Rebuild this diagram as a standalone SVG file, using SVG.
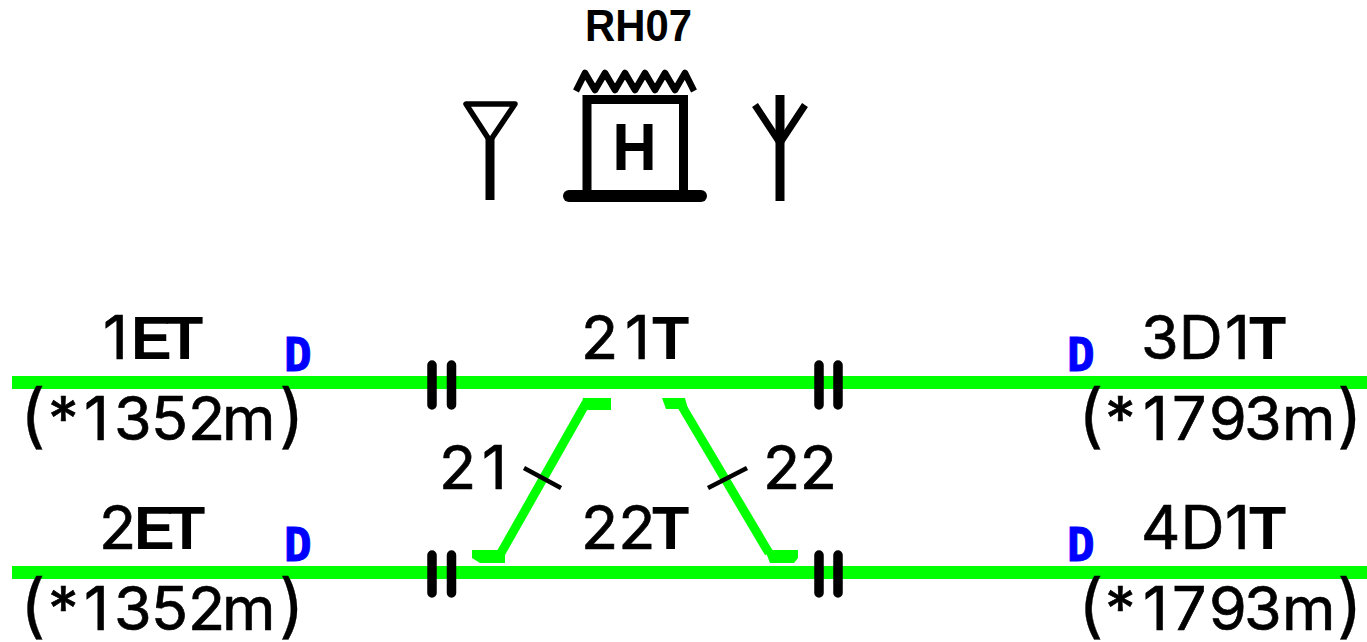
<svg xmlns="http://www.w3.org/2000/svg" width="1367" height="642" viewBox="0 0 1367 642">
<style>
.t{font-family:Inter,"DejaVu Sans",sans-serif;font-size:61px;fill:#000;stroke:#000;stroke-width:.7}
.b{font-family:"Liberation Sans",sans-serif;font-weight:bold;stroke-width:0}
.p{font-size:70px;stroke-width:.3}
.d{font-family:"DejaVu Sans Mono",monospace;font-weight:bold;font-size:46px;fill:#00f;stroke:#00f;stroke-width:1}
.tr{fill:#0f0}
.g{fill:none;stroke:#0f0;stroke-width:9}
.k{fill:none;stroke:#000;stroke-width:9}
.i{fill:none;stroke:#000;stroke-width:9.500;stroke-linecap:round}
.s{fill:none;stroke:#000;stroke-width:4.500}
</style>
<rect width="1367" height="642" fill="#fff"/>
<g id="connectors">
<rect class="tr" x="12" y="376" width="1355" height="13"/>
<rect class="tr" x="12" y="566" width="1355" height="13"/>
<path class="g" d="M501 553 L586 403"/><path class="tr" d="M583 398H611V410H580Z"/>
<path class="tr" d="M472 550H505V563H480L472 558Z"/>
<path class="g" d="M680 403 L769 553"/><path class="tr" d="M662 398H685L688 409H666Z"/>
<path class="tr" d="M765 550H798V558L794 563H770Z"/>
<path class="s" d="M524 468L561 488M708 488L747 468"/>
</g>
<g id="insulators">
<path class="i" d="M432 365V405M451.500 365V405M819 365V405M838 365V405M432 555V593M451.500 555V593M819 555V593M838 555V593"/>
</g>
<g id="station">
<text x="585" y="41" textLength="107" lengthAdjust="spacingAndGlyphs" style="font-family:'Liberation Sans',sans-serif;font-weight:bold;font-size:44px">RH07</text>
<path class="k" d="M587 197V99.500H683.500V197"/>
<path d="M569 196H701" fill="none" stroke="#000" stroke-width="12" stroke-linecap="round"/>
<path d="M576 91L585 73L595 90L605 73L615 90L625 73L635 90L645 73L655 90L665 73L675 90L685 73L694 91" fill="none" stroke="#000" stroke-width="6.500" stroke-linejoin="round"/>
<path class="k" d="M621 124V170M648 124V170"/>
<path d="M621 147H648" fill="none" stroke="#000" stroke-width="8"/>
</g>
<g id="antenna-left">
<path d="M466 104H515L490 141Z" fill="none" stroke="#000" stroke-width="5.500" stroke-linejoin="round"/>
<path class="k" d="M490 138V200"/>
</g>
<g id="antenna-right">
<path class="k" d="M780 95V201"/>
<path d="M755 105L780 143L805 105" fill="none" stroke="#000" stroke-width="7"/>
</g>
<g id="labels">
<text class="t" x="103" y="359">1<tspan class="b" x="131">E</tspan><tspan class="b" x="166">T</tspan></text>
<text class="t" x="99" y="549">2<tspan class="b" x="134">E</tspan><tspan class="b" x="168">T</tspan></text>
<text class="t" x="581" y="359">2<tspan x="625">1</tspan><tspan class="b" x="652">T</tspan></text>
<text class="t" x="581" y="549">22<tspan class="b" x="652">T</tspan></text>
<text class="t" x="1141" y="359">3D<tspan x="1225">1</tspan><tspan class="b" x="1249">T</tspan></text>
<text class="t" x="1141" y="549">4D<tspan x="1225">1</tspan><tspan class="b" x="1249">T</tspan></text>
<text class="t" x="439" y="489">2<tspan x="482">1</tspan></text>
<text class="t" x="763" y="489" textLength="74">22</text>
<text class="t" y="440"><tspan class="p" x="20">(</tspan><tspan x="48 84 114 151 188 222">*1352m</tspan><tspan class="p" x="279">)</tspan></text>
<text class="t" y="630"><tspan class="p" x="20">(</tspan><tspan x="48 84 114 151 188 222">*1352m</tspan><tspan class="p" x="279">)</tspan></text>
<text class="t" y="440"><tspan class="p" x="1078">(</tspan><tspan x="1105 1143 1172 1209 1244 1282">*1793m</tspan><tspan class="p" x="1337">)</tspan></text>
<text class="t" y="630"><tspan class="p" x="1078">(</tspan><tspan x="1105 1143 1172 1209 1244 1282">*1793m</tspan><tspan class="p" x="1337">)</tspan></text>
<text class="d" x="284" y="371">D</text>
<text class="d" x="284" y="561">D</text>
<text class="d" x="1067" y="371">D</text>
<text class="d" x="1067" y="561">D</text>
</g>
</svg>
